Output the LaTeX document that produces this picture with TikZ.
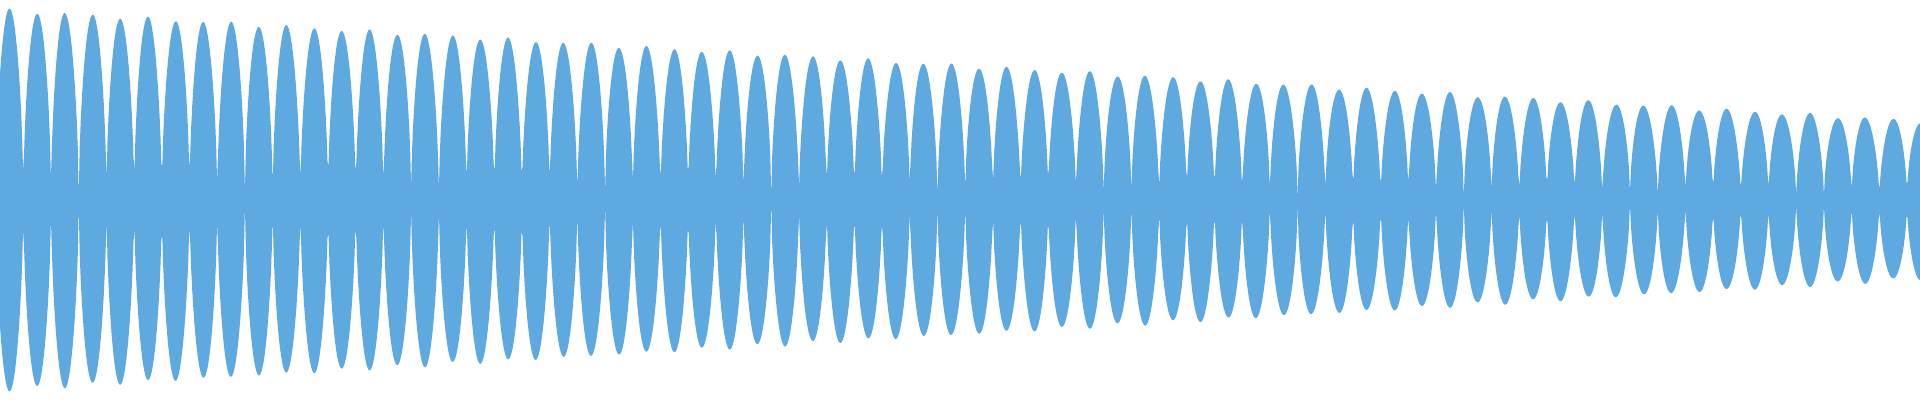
\documentclass[tikz,border=0pt]{standalone}
\definecolor{wave}{HTML}{5DA9E0}
\begin{document}
\begin{tikzpicture}[x=0.02cm,y=0.02cm]
\useasboundingbox (0,0) rectangle (1920,400);
\fill[wave] plot[domain=0:1920,samples=2000,variable=\t]
  ({\t},{200+(190-0.058*\t)*pow(abs(sin(6.498*(\t-1907)))+0.0001,0.55)+2*sin(8*\t)})
  -- plot[domain=1920:0,samples=2000,variable=\t]
  ({\t},{200-(190-0.058*\t)*pow(abs(sin(6.498*(\t-1907)))+0.0001,0.55)-2*sin(7*\t)}) -- cycle;
\end{tikzpicture}
\end{document}
